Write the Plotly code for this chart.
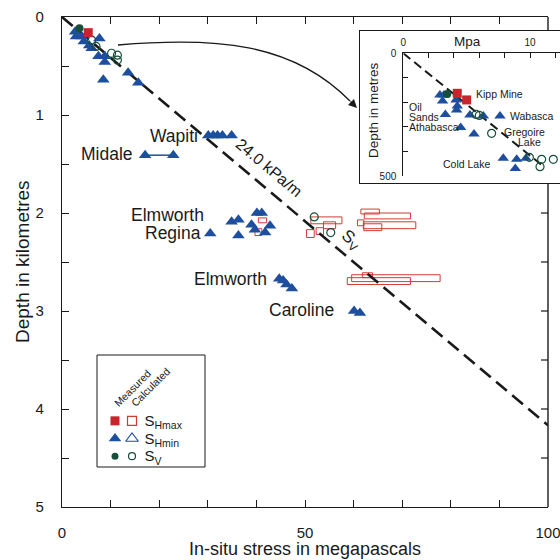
import plotly.graph_objects as go

# ---------------- main panel: in-situ stress (MPa) against depth (km) ----------------
GRADIENT = 24.0  # vertical stress gradient, kPa/m (= MPa/km)
sv_line_stress = [0, 100]

# measured minimum horizontal stress
shmin_stress = [2.7, 2.9, 4.05, 4.5, 5.6, 6.1, 7.7, 7.5, 8.8, 8.8, 8.5, 13.6, 15.7,
                30.1, 31.1, 32.0, 33.0, 34.9,
                34.9, 36.3, 30.5, 36.3, 40.1, 41.1, 39.0, 39.7, 42.8, 41.8,
                44.7, 45.5, 46.2, 47.3,
                60.1, 61.3]
shmin_depth = [0.15, 0.20, 0.20, 0.25, 0.29, 0.32, 0.22, 0.40, 0.40, 0.46, 0.64, 0.57, 0.67,
               1.21, 1.21, 1.21, 1.21, 1.21,
               2.09, 2.07, 2.21, 2.23, 2.00, 2.00, 2.12, 2.17, 2.13, 2.20,
               2.67, 2.69, 2.73, 2.77,
               3.00, 3.02]
# Midale: two measurements joined as a range
midale_stress = [17.1, 22.9]
midale_depth = [1.41, 1.41]

# measured maximum horizontal stress and vertical stress
shmax_meas_stress = [5.4]
shmax_meas_depth = [0.16]
sv_meas_stress = [3.6]
sv_meas_depth = [0.115]

# calculated vertical stress
sv_calc_stress = [6.1, 7.0, 10.2, 11.4, 11.4, 51.9, 55.3]
sv_calc_depth = [0.235, 0.30, 0.37, 0.39, 0.44, 2.04, 2.20]

# calculated maximum horizontal stress: stress range (MPa) over depth interval (km)
shmax_calc_lo = [40.4, 39.7, 51.2, 53.8, 52.3, 50.3, 61.5, 62.2, 60.8, 62.0, 62.1, 58.7, 59.6, 61.8]
shmax_calc_hi = [42.1, 41.1, 57.6, 56.3, 53.8, 51.9, 65.3, 71.7, 62.1, 72.8, 65.8, 71.7, 77.8, 63.9]
shmax_calc_top = [2.05, 2.16, 2.04, 2.09, 2.15, 2.17, 1.96, 2.00, 2.07, 2.09, 2.11, 2.66, 2.63, 2.61]
shmax_calc_bot = [2.10, 2.23, 2.11, 2.16, 2.22, 2.25, 2.01, 2.06, 2.13, 2.16, 2.18, 2.73, 2.70, 2.66]

x_ticks = list(range(0, 101, 10))
x_ticktext = ["0", "", "", "", "", "50", "", "", "", "", "100"]
y_ticks = [i * 0.5 for i in range(11)]
y_ticktext = ["0", "", "1", "", "2", "", "3", "", "4", "", "5"]

# ---------------- inset: shallow oil-sands data (MPa, metres) ----------------
inset_line_stress = [0, 11.0]
inset_shmin_stress = [2.89, 3.21, 3.1, 4.16, 4.26, 4.21, 3.32, 5.26, 6.32, 7.63, 4.53, 5.58,
                      7.89, 8.95, 9.68, 8.84]
inset_shmin_depth = [170, 170, 194, 190, 215, 231, 249, 251, 255, 255, 302, 329,
                     428, 432, 428, 469]
inset_shmax_stress = [4.26, 5.0]
inset_shmax_depth = [163, 190]
inset_sv_meas_stress = [3.47]
inset_sv_meas_depth = [166]
inset_sv_calc_stress = [5.74, 6.0, 6.97, 9.95, 10.92, 10.79, 11.84]
inset_sv_calc_depth = [249, 253, 326, 424, 432, 462, 432]
inset_x_ticks = [0, 2, 4, 6, 8, 10, 12]
inset_x_ticktext = ["0", "", "", "", "", "10", ""]
inset_y_ticks = [0, 100, 200, 300, 400, 500]
inset_y_ticktext = ["0", "", "", "", "", "500"]

# ---------------- key ----------------
key_cols = ["Measured", "Calculated"]
key_rows = ["S<sub>Hmax</sub>", "S<sub>Hmin</sub>", "S<sub>V</sub>"]

FONT = "Liberation Sans, Arial, Helvetica, sans-serif"
INK = "#1a1a1a"
BLUE = "#1d4f9e"
RED = "#c8242b"
RECT_RED = "#d23b35"
GREEN = "#17503a"

W = H = 560
ML, MR, MT, MB = 62, 0, 17, 53
PW, PH = W - ML - MR, H - MT - MB


def px(xp):
    return (xp - ML) / PW


def py(yp):
    return (H - MB - yp) / PH


MAIN_X1 = 548
X_PER_MPA = (MAIN_X1 - ML) / 100.0
Y_PER_KM = PH / 5.0
INSET_TOP, INSET_BOTTOM = 31, 183


def dx(xp):
    return (xp - ML) / X_PER_MPA


def dy(yp):
    return (yp - MT) / Y_PER_KM


fig = go.Figure()

# Sv gradient line
fig.add_trace(go.Scatter(
    x=sv_line_stress, y=[s / GRADIENT for s in sv_line_stress], mode="lines",
    line=dict(color=INK, width=2.6, dash="14px,7px"), hoverinfo="skip"))

# Midale range
fig.add_trace(go.Scatter(
    x=midale_stress, y=midale_depth, mode="lines+markers",
    line=dict(color=BLUE, width=1.5),
    marker=dict(symbol="triangle-up", size=11, color=BLUE)))

fig.add_trace(go.Scatter(
    x=shmin_stress, y=shmin_depth, mode="markers",
    marker=dict(symbol="triangle-up", size=11, color=BLUE)))
fig.add_trace(go.Scatter(
    x=sv_calc_stress, y=sv_calc_depth, mode="markers",
    marker=dict(symbol="circle-open", size=8, color=GREEN, line=dict(width=1.2))))
fig.add_trace(go.Scatter(
    x=shmax_meas_stress, y=shmax_meas_depth, mode="markers",
    marker=dict(symbol="square", size=9, color=RED)))
fig.add_trace(go.Scatter(
    x=sv_meas_stress, y=sv_meas_depth, mode="markers",
    marker=dict(symbol="circle", size=8, color=GREEN)))

shapes = []
for lo, hi, top, bot in zip(shmax_calc_lo, shmax_calc_hi, shmax_calc_top, shmax_calc_bot):
    shapes.append(dict(type="rect", xref="x", yref="y", x0=lo, x1=hi, y0=top, y1=bot,
                       line=dict(color=RECT_RED, width=1), fillcolor="rgba(0,0,0,0)",
                       layer="below"))

# right-hand frame of the main panel, interrupted by the inset
frame_line = dict(color=INK, width=1.4)
shapes.append(dict(type="line", xref="paper", yref="paper", x0=px(MAIN_X1), x1=px(MAIN_X1),
                   y0=py(INSET_BOTTOM), y1=0, line=frame_line))
shapes.append(dict(type="line", xref="paper", yref="paper", x0=px(MAIN_X1), x1=px(MAIN_X1),
                   y0=1, y1=py(INSET_TOP), line=frame_line))
for d in y_ticks:
    ypix = MT + d * Y_PER_KM
    if INSET_TOP <= ypix <= INSET_BOTTOM or d in (0, 5):
        continue
    shapes.append(dict(type="line", xref="paper", yref="y", x0=px(MAIN_X1 - 7),
                       x1=px(MAIN_X1), y0=d, y1=d, line=dict(color=INK, width=1.2)))

# curved pointer towards the inset
shapes.append(dict(
    type="path", xref="x", yref="y",
    path="M %.3f,%.4f C %.3f,%.4f %.3f,%.4f %.3f,%.4f" % (
        dx(118), dy(45), dx(215), dy(37), dx(292), dy(42), dx(350), dy(101)),
    line=dict(color=INK, width=1.3)))

# inset frame (white panel drawn above the main axes)
fig.add_trace(go.Scatter(
    x=[0, 1, 1, 0, 0], y=[0, 0, 1, 1, 0], mode="lines", fill="toself",
    fillcolor="white", line=dict(width=0), xaxis="x2", yaxis="y2", hoverinfo="skip"))

# inset data
fig.add_trace(go.Scatter(
    x=inset_line_stress, y=[s / GRADIENT * 1000 for s in inset_line_stress], mode="lines",
    line=dict(color=INK, width=2, dash="9px,5px"), xaxis="x3", yaxis="y3", hoverinfo="skip"))
fig.add_trace(go.Scatter(
    x=inset_shmin_stress, y=inset_shmin_depth, mode="markers", cliponaxis=False,
    marker=dict(symbol="triangle-up", size=10, color=BLUE), xaxis="x3", yaxis="y3"))
fig.add_trace(go.Scatter(
    x=inset_sv_calc_stress, y=inset_sv_calc_depth, mode="markers", cliponaxis=False,
    marker=dict(symbol="circle-open", size=8, color=GREEN, line=dict(width=1.2)),
    xaxis="x3", yaxis="y3"))
fig.add_trace(go.Scatter(
    x=inset_sv_meas_stress, y=inset_sv_meas_depth, mode="markers", cliponaxis=False,
    marker=dict(symbol="circle", size=8, color=GREEN), xaxis="x3", yaxis="y3"))
fig.add_trace(go.Scatter(
    x=inset_shmax_stress, y=inset_shmax_depth, mode="markers", cliponaxis=False,
    marker=dict(symbol="square", size=9, color=RED), xaxis="x3", yaxis="y3"))

# key symbols
key_filled = [dict(symbol="square", size=9, color=RED),
              dict(symbol="triangle-up", size=11, color=BLUE),
              dict(symbol="circle", size=7, color=GREEN)]
key_open = [dict(symbol="square-open", size=9, color=RECT_RED, line=dict(width=1.2)),
            dict(symbol="triangle-up-open", size=11, color=BLUE, line=dict(width=1.2)),
            dict(symbol="circle-open", size=7, color=GREEN, line=dict(width=1.2))]
for row, mf, mo in zip(key_rows, key_filled, key_open):
    fig.add_trace(go.Scatter(x=[key_cols[0]], y=[row], mode="markers", marker=mf,
                             xaxis="x4", yaxis="y4", cliponaxis=False))
    fig.add_trace(go.Scatter(x=[key_cols[1]], y=[row], mode="markers", marker=mo,
                             xaxis="x4", yaxis="y4", cliponaxis=False))

# key frame
shapes.append(dict(type="rect", xref="paper", yref="paper",
                   x0=px(97), x1=px(205), y0=py(467), y1=py(355),
                   line=dict(color=INK, width=1)))

annotations = []


def label(text, xp, yp, size=17.5, angle=0, xanchor="center"):
    annotations.append(dict(text=text, x=px(xp), y=py(yp), xref="paper", yref="paper",
                            showarrow=False, textangle=angle, xanchor=xanchor,
                            yanchor="middle", font=dict(family=FONT, size=size, color=INK)))


# axis titles
label("In-situ stress in megapascals", 305, 549, size=18)
label("Depth in kilometres", 22, 262, size=19, angle=-90)

# field names
label("Midale", 107, 154)
label("Wapiti", 174, 136)
label("Elmworth", 167.5, 215)
label("Regina", 173, 233.5)
label("Elmworth", 230, 279)
label("Caroline", 301, 310)

# gradient labels along the line
label("24.0 kPa/m", 269, 167, size=16, angle=40)
label("S<sub>V</sub>", 350, 240, size=17, angle=40)

# inset texts
label("Mpa", 467, 41, size=13.5)
label("Depth in metres", 373, 110, size=13.5, angle=-90)
label("Kipp Mine", 474, 94, size=10.5, xanchor="left")
label("Oil", 406.5, 107, size=10.5, xanchor="left")
label("Sands", 406.5, 117.3, size=10.5, xanchor="left")
label("Athabasca", 406.5, 127.3, size=10.5, xanchor="left")
label("Wabasca", 508, 115.7, size=10.5, xanchor="left")
label("Gregoire", 547, 132, size=10.5, xanchor="right")
label("Lake", 543, 141.5, size=10.5, xanchor="right")
label("Cold Lake", 440.5, 164, size=10.5, xanchor="left")

# arrowhead of the pointer
annotations.append(dict(x=dx(357), y=dy(108), ax=dx(349), ay=dy(100),
                        xref="x", yref="y", axref="x", ayref="y",
                        showarrow=True, arrowhead=2, arrowsize=1.3, arrowwidth=1.3,
                        arrowcolor=INK, text=""))

tickfont = dict(family=FONT, size=15, color=INK)
axis_common = dict(showgrid=False, zeroline=False, showline=True, linecolor=INK,
                   linewidth=1.2, ticks="inside", tickcolor=INK, tickwidth=1.2,
                   automargin=False)

fig.update_layout(
    width=W, height=H, margin=dict(l=ML, r=MR, t=MT, b=MB, autoexpand=False),
    paper_bgcolor="white", plot_bgcolor="white", showlegend=False,
    font=dict(family=FONT, color=INK),
    xaxis=dict(domain=[0, px(MAIN_X1)], range=[0, 100], tickvals=x_ticks,
               ticktext=x_ticktext, ticklen=7, tickfont=tickfont, mirror="ticks",
               ticklabelstandoff=12, ticklabeloverflow="allow", **axis_common),
    yaxis=dict(domain=[0, 1], range=[5, 0], tickvals=y_ticks, ticktext=y_ticktext,
               ticklen=7, tickfont=tickfont, ticklabelstandoff=14, **axis_common),
    xaxis2=dict(domain=[px(360), 1], range=[0, 1], anchor="y2", showgrid=False,
                zeroline=False, showticklabels=False, ticks="", showline=True,
                mirror=True, linecolor=INK, linewidth=1.2, fixedrange=True,
                automargin=False),
    yaxis2=dict(domain=[py(INSET_BOTTOM), py(INSET_TOP)], range=[0, 1], anchor="x2",
                showgrid=False, zeroline=False, showticklabels=False, ticks="",
                showline=True, mirror=True, linecolor=INK, linewidth=1.2,
                fixedrange=True, automargin=False),
    xaxis3=dict(domain=[px(403.3), 1], range=[0, (560 - 403.3) / 12.67], anchor="y3",
                side="top", tickvals=inset_x_ticks, ticktext=inset_x_ticktext,
                showgrid=False, zeroline=False, showline=True, linecolor=INK,
                linewidth=1, ticks="inside", ticklen=5, tickcolor=INK,
                tickfont=dict(family=FONT, size=10, color=INK), ticklabelstandoff=2,
                automargin=False),
    yaxis3=dict(domain=[py(176), py(53.3)], range=[500, 0], anchor="x3",
                tickvals=inset_y_ticks, ticktext=inset_y_ticktext,
                showgrid=False, zeroline=False, showline=True, linecolor=INK,
                linewidth=1, ticks="inside", ticklen=5, tickcolor=INK,
                tickfont=dict(family=FONT, size=10, color=INK), ticklabelstandoff=4,
                automargin=False),
    xaxis4=dict(domain=[px(106.5), px(140.5)], type="category", categoryarray=key_cols,
                categoryorder="array", range=[-0.5, 1.5], anchor="y4", side="top",
                tickmode="array", tickvals=key_cols, ticktext=key_cols,
                tickangle=-45, showgrid=False, zeroline=False, showline=False, ticks="",
                tickfont=dict(family=FONT, size=10.5, color=INK), fixedrange=True,
                automargin=False),
    yaxis4=dict(domain=[py(465), py(412)], type="category", categoryarray=key_rows,
                categoryorder="array", range=[2.5, -0.5], anchor="x4", side="right",
                tickmode="array", tickvals=key_rows, ticktext=key_rows,
                showgrid=False, zeroline=False, showline=False, ticks="",
                tickfont=dict(family=FONT, size=15, color=INK), ticklabelstandoff=3,
                fixedrange=True, automargin=False),
    shapes=shapes,
    annotations=annotations,
)

fig.write_html("out.html")
